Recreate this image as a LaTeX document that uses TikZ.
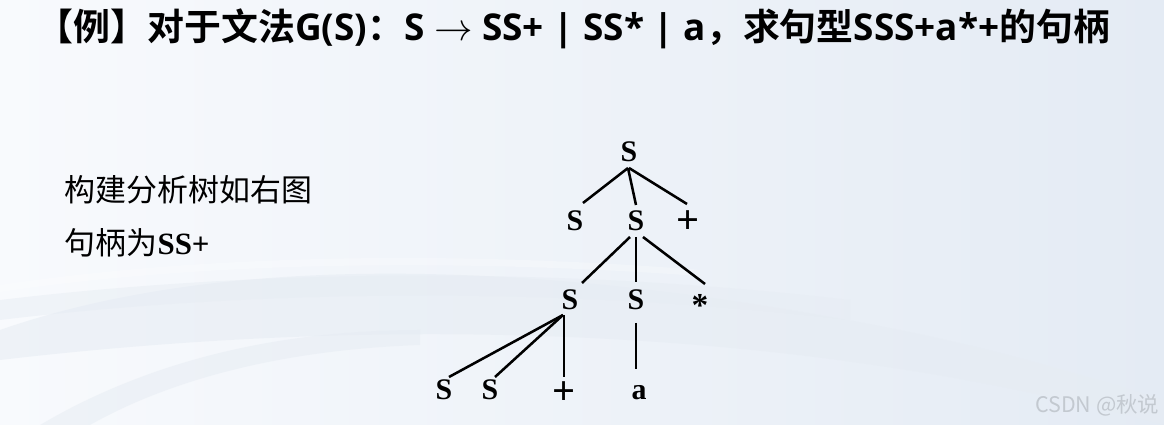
\documentclass[tikz,border=0pt]{standalone}
\usepackage{fontspec}
\setmainfont{Liberation Serif}
\newfontfamily\cjkbold{Noto Sans CJK SC Bold}
\newfontfamily\cjk{Noto Sans CJK SC}
\newfontfamily\latb{Open Sans}
\usetikzlibrary{calc}
\definecolor{bgL}{HTML}{F8FAFD}
\definecolor{bgR}{HTML}{E4EBF4}
\definecolor{band}{HTML}{E6ECF3}
\definecolor{wm}{HTML}{C3C9D0}
\newcommand{\Lt}[1]{{\latb\bfseries #1}}
\tikzset{
  tn/.style={anchor=base, inner sep=0pt, font=\fontsize{8.5pt}{9pt}\selectfont\bfseries},
  tplus/.style={anchor=base, inner sep=0pt, font=\fontsize{11.5pt}{12pt}\selectfont\bfseries},
  tstar/.style={anchor=base, inner sep=0pt, font=\fontsize{9.5pt}{10pt}\selectfont\bfseries},
  edge/.style={line width=0.72pt, black},
  lefttext/.style={anchor=west, inner sep=0pt, font=\fontsize{8.8pt}{9pt}\selectfont},
}
\begin{document}
\begin{tikzpicture}[x=0.01cm, y=-0.01cm]
\useasboundingbox (0,0) rectangle (1164,425);
\shade[left color=bgL, right color=bgR] (0,0) rectangle (1164,425);
% faint background swooshes
\begin{scope}
\clip (0,0) rectangle (1164,425);
\fill[band, opacity=0.55] (0,330) .. controls (200,260) and (500,250) .. (900,330) .. controls (1000,350) and (1100,380) .. (1164,400) -- (1164,425) .. controls (1000,380) and (600,290) .. (0,360) -- cycle;
\fill[band, opacity=0.45] (0,300) .. controls (250,270) and (550,265) .. (850,300) -- (850,320) .. controls (550,285) and (250,290) .. (0,320) -- cycle;
\fill[band, opacity=0.5] (40,425) .. controls (150,360) and (280,330) .. (420,330) -- (420,345) .. controls (280,350) and (170,380) .. (90,425) -- cycle;
\fill[white, opacity=0.25] (0,285) .. controls (200,255) and (450,250) .. (700,270) -- (700,276) .. controls (450,258) and (200,262) .. (0,292) -- cycle;
\end{scope}
% title
\node[anchor=west, inner sep=0pt, font=\fontsize{10.5pt}{11pt}\cjkbold] (title) at (36,29)
  {【例】对于文法\Lt{G(S)}：\Lt{S $\rightarrow$ SS+ | SS* | a}，求句型\Lt{SSS+a*+}的句柄};
% left text
\node[lefttext] (t1) at (64,190) {\cjk 构建分析树如右图};
\node[lefttext] (t2) at (64,243) {\cjk 句柄为{\rmfamily\bfseries SS+}};
% tree nodes (positioned by baseline)
\node[tn]    (r)  at (629,162) {S};
\node[tn]    (a1) at (575,231) {S};
\node[tn]    (a2) at (636,231) {S};
\node[tplus] (a3) at (688,234) {+};
\node[tn]    (b1) at (570,310) {S};
\node[tn]    (b2) at (636,310) {S};
\node[tstar] (b3) at (700,317) {*};
\node[tn]    (c1) at (444,400) {S};
\node[tn]    (c2) at (490,400) {S};
\node[tplus] (c3) at (564,405) {+};
\node[tn]    (d)  at (639,400) {a};
% edges
\draw[edge] ($(r.base)+(-1,6)$) -- ($(a1.base)+(8,-28)$);
\draw[edge] ($(r.base)+(-1,6)$) -- ($(a2.base)+(0,-26)$);
\draw[edge] ($(r.base)+(0,6)$) -- ($(a3.base)+(-1,-30)$);
\draw[edge] ($(a2.base)+(-6,6)$) -- ($(b1.base)+(12,-27)$);
\draw[edge] ($(a2.base)+(0,6)$) -- ($(b2.base)+(0,-28)$);
\draw[edge] ($(a2.base)+(7,6)$) -- ($(b3.base)+(5,-33)$);
\draw[edge] ($(b1.base)+(-7,5)$) -- ($(c1.base)+(5,-23)$);
\draw[edge] ($(b1.base)+(-7,5)$) -- ($(c2.base)+(5,-23)$);
\draw[edge] ($(b1.base)+(-6,5)$) -- ($(c3.base)+(0,-28)$);
\draw[edge] ($(b2.base)+(0,13)$) -- ($(d.base)+(-3,-31)$);
% watermark
\node[anchor=east, inner sep=0pt, text=wm, font=\fontsize{6.1pt}{7pt}\cjk] (wmk) at (1160,405) {CSDN @秋说};
\end{tikzpicture}
\end{document}
